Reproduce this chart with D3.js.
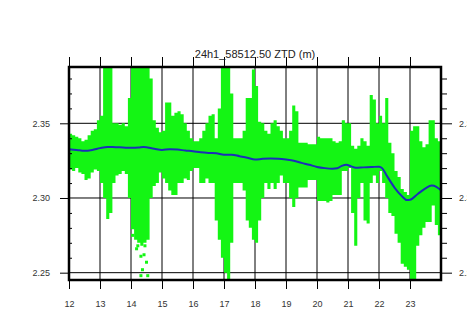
<!DOCTYPE html>
<html>
<head>
<meta charset="utf-8">
<script src="https://cdn.jsdelivr.net/npm/d3@7"></script>
<style>
  body { margin: 0; background: #fff; }
  svg { display: block; font-family: "Liberation Sans", Arial, Helvetica, sans-serif; }
</style>
</head>
<body>
<div id="chart"></div>
<script>
// spread of the green samples, one pair per 0.1 h bin starting at 12.0
const greenTop = [
  2.343, 2.342, 2.341, 2.340, 2.338, 2.339, 2.342, 2.345, 2.346, 2.352,
  2.355, 2.390, 2.390, 2.390, 2.350, 2.350, 2.349, 2.350, 2.348, 2.367,
  2.390, 2.390, 2.390, 2.390, 2.390, 2.390, 2.380, 2.352, 2.347, 2.344,
  2.345, 2.364, 2.364, 2.355, 2.357, 2.358, 2.356, 2.350, 2.345, 2.340,
  2.338, 2.338, 2.340, 2.345, 2.350, 2.355, 2.356, 2.340, 2.360, 2.390,
  2.390, 2.390, 2.370, 2.340, 2.340, 2.340, 2.345, 2.367, 2.367, 2.386,
  2.375, 2.351, 2.350, 2.345, 2.343, 2.350, 2.352, 2.348, 2.345, 2.340,
  2.340, 2.345, 2.362, 2.358, 2.337, 2.337, 2.337, 2.336, 2.336, 2.336,
  2.341, 2.340, 2.340, 2.340, 2.340, 2.338, 2.337, 2.338, 2.352, 2.350,
  2.350, 2.335, 2.333, 2.335, 2.340, 2.338, 2.335, 2.369, 2.366, 2.350,
  2.355, 2.350, 2.367, 2.337, 2.330, 2.318, 2.314, 2.306, 2.304, 2.302,
  2.345, 2.348, 2.348, 2.338, 2.334, 2.336, 2.352, 2.352, 2.340, 2.338
];
const greenBottom = [
  2.319, 2.318, 2.320, 2.317, 2.316, 2.312, 2.313, 2.317, 2.319, 2.318,
  2.310, 2.300, 2.286, 2.290, 2.310, 2.315, 2.316, 2.318, 2.316, 2.300,
  2.279, 2.272, 2.270, 2.268, 2.270, 2.272, 2.300, 2.308, 2.310, 2.317,
  2.313, 2.310, 2.305, 2.302, 2.302, 2.310, 2.310, 2.313, 2.312, 2.318,
  2.320, 2.320, 2.310, 2.310, 2.313, 2.310, 2.310, 2.285, 2.272, 2.260,
  2.250, 2.245, 2.270, 2.310, 2.310, 2.310, 2.305, 2.285, 2.280, 2.272,
  2.270, 2.285, 2.300, 2.310, 2.306, 2.310, 2.306, 2.310, 2.315, 2.310,
  2.310, 2.300, 2.294, 2.300, 2.307, 2.307, 2.307, 2.312, 2.312, 2.312,
  2.298, 2.298, 2.298, 2.297, 2.298, 2.302, 2.302, 2.302, 2.318, 2.318,
  2.320, 2.290, 2.268, 2.300, 2.310, 2.285, 2.283, 2.310, 2.315, 2.310,
  2.318, 2.310, 2.300, 2.290, 2.288, 2.276, 2.270, 2.256, 2.254, 2.252,
  2.245, 2.245, 2.268, 2.275, 2.280, 2.284, 2.284, 2.295, 2.282, 2.275
];
// loose samples below the main cloud
const dotHours  = [14.05, 14.18, 14.22, 14.32, 14.37, 14.45, 14.50, 14.54, 14.32, 14.42];
const dotValues = [2.275, 2.266, 2.268, 2.261, 2.252, 2.268, 2.257, 2.248, 2.248, 2.262];

// smoothed series (blue)
const blueHours = [12.0, 12.25, 12.5, 12.75, 13.0, 13.25, 13.5, 13.75, 14.0, 14.25, 14.4, 14.75,
  15.0, 15.25, 15.5, 15.75, 16.0, 16.25, 16.5, 16.75, 17.0, 17.25, 17.5, 17.75,
  18.0, 18.25, 18.5, 18.75, 19.0, 19.25, 19.5, 19.75, 20.0, 20.25, 20.5, 20.65, 20.8, 20.95,
  21.1, 21.25, 21.5, 21.75, 22.0, 22.1, 22.25, 22.5, 22.75, 22.9, 23.0, 23.25, 23.5, 23.7, 23.85, 24.0];
const blueValues = [2.3327, 2.3322, 2.3316, 2.3322, 2.3334, 2.3342, 2.3340, 2.3338, 2.3336, 2.3338, 2.3342, 2.3330,
  2.3322, 2.3326, 2.3324, 2.3318, 2.3313, 2.3306, 2.3302, 2.3300, 2.3290, 2.3290, 2.3280, 2.3270,
  2.3258, 2.3262, 2.3264, 2.3262, 2.3257, 2.3250, 2.3235, 2.3222, 2.3208, 2.3200, 2.3196, 2.3199, 2.3215, 2.3222,
  2.3212, 2.3202, 2.3205, 2.3207, 2.3210, 2.3200, 2.3150, 2.3070, 2.3010, 2.2986, 2.2988, 2.3027, 2.3065, 2.3083, 2.3075, 2.3052];

const xTicks = [12, 13, 14, 15, 16, 17, 18, 19, 20, 21, 22, 23];
const yTicks = [2.25, 2.30, 2.35];
const yMinor = [2.26, 2.27, 2.28, 2.29, 2.31, 2.32, 2.33, 2.34, 2.36, 2.37, 2.38];
const title = "24h1_58512.50 ZTD (m)";

const W = 467, H = 327;
const pLeft = 69, pRight = 441, pTop = 67, pBottom = 280;
const green = "#14f514";

let svg = d3.select("#chart").append("svg")
    .attr("width", W)
    .attr("height", H);

let x = d3.scaleLinear().domain([12, 24]).range([pLeft, pRight]);
let y = d3.scaleLinear().domain([2.2451, 2.3877]).range([pBottom, pTop]);

svg.append("clipPath").attr("id", "plotclip")
  .append("rect")
    .attr("x", pLeft).attr("y", pTop)
    .attr("width", pRight - pLeft).attr("height", pBottom - pTop);

// grid
let grid = svg.append("g").attr("stroke", "#000").attr("stroke-width", 1);
grid.selectAll(".vg")
    .data(xTicks.slice(1))
    .join("line")
    .attr("x1", d => x(d)).attr("x2", d => x(d))
    .attr("y1", pTop).attr("y2", pBottom);
grid.selectAll(".hg")
    .data(yTicks)
    .join("line")
    .attr("x1", pLeft).attr("x2", pRight)
    .attr("y1", d => y(d)).attr("y2", d => y(d));

let plot = svg.append("g").attr("clip-path", "url(#plotclip)");

// green cloud as a stepped band, one step per bin
let bins = greenTop.map((t, i) => ({h: 12 + i / 10, top: t, bottom: greenBottom[i]}));
bins.push({h: 24, top: greenTop[greenTop.length - 1], bottom: greenBottom[greenBottom.length - 1]});

let band = d3.area()
    .x(d => x(d.h))
    .y0(d => y(d.bottom))
    .y1(d => y(d.top))
    .curve(d3.curveStepAfter);

plot.append("path")
    .datum(bins)
    .attr("d", band)
    .attr("fill", green);

plot.selectAll(".dot")
    .data(dotHours.map((h, i) => [h, dotValues[i]]))
    .join("rect")
    .attr("x", d => x(d[0]) - 1.5)
    .attr("y", d => y(d[1]) - 1.5)
    .attr("width", 3).attr("height", 3)
    .attr("fill", green);

// blue line
let line = d3.line()
    .x(d => x(d[0]))
    .y(d => y(d[1]))
    .curve(d3.curveMonotoneX);
plot.append("path")
    .datum(blueHours.map((h, i) => [h, blueValues[i]]))
    .attr("d", line)
    .attr("fill", "none")
    .attr("stroke", "#1b2fb8")
    .attr("stroke-width", 2);

// axes
function styleAxis(g) {
  g.select(".domain").remove();
  g.selectAll("line").attr("stroke", "#000");
  g.selectAll("text").attr("fill", "#333").style("font-size", "9px");
}

svg.append("g")
    .attr("transform", `translate(0,${pBottom})`)
    .call(d3.axisBottom(x).tickValues(xTicks).tickSize(9).tickFormat(d3.format("d")))
    .call(styleAxis)
    .call(g => g.selectAll("text").attr("dy", 0).attr("y", 26.5));

svg.append("g")
    .attr("transform", `translate(0,${pTop})`)
    .call(d3.axisTop(x).tickValues(xTicks).tickSize(10).tickFormat(""))
    .call(styleAxis);

svg.append("g")
    .attr("transform", `translate(${pLeft},0)`)
    .call(d3.axisLeft(y).tickValues(yTicks).tickSize(9).tickPadding(10).tickFormat(d3.format(".2f")))
    .call(styleAxis);

svg.append("g")
    .attr("transform", `translate(${pLeft},0)`)
    .call(d3.axisLeft(y).tickValues(yMinor).tickSize(-3).tickFormat(""))
    .call(styleAxis);

svg.append("g")
    .attr("transform", `translate(${pRight},0)`)
    .call(d3.axisRight(y).tickValues(yTicks).tickSize(11).tickPadding(7).tickFormat(d3.format(".2f")))
    .call(styleAxis);

svg.append("g")
    .attr("transform", `translate(${pRight},0)`)
    .call(d3.axisRight(y).tickValues(yMinor).tickSize(6).tickFormat(""))
    .call(styleAxis);

// frame
svg.append("rect")
    .attr("x", pLeft).attr("y", pTop)
    .attr("width", pRight - pLeft).attr("height", pBottom - pTop)
    .attr("fill", "none")
    .attr("stroke", "#000")
    .attr("stroke-width", 2.5);

svg.append("text")
    .attr("x", (pLeft + pRight) / 2)
    .attr("y", 57.5)
    .attr("text-anchor", "middle")
    .attr("fill", "#222")
    .style("font-size", "11px")
    .text(title);
</script>
</body>
</html>
